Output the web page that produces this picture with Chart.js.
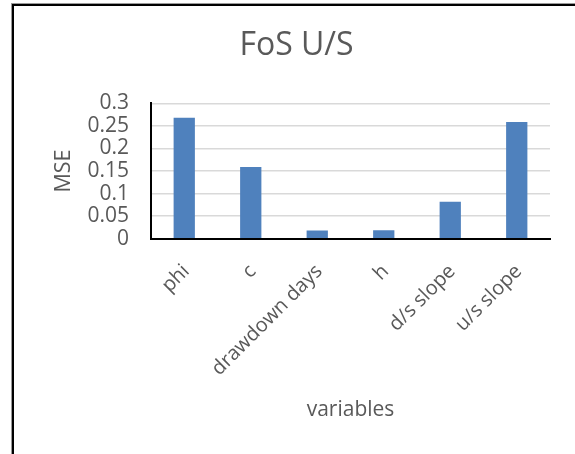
<!DOCTYPE html>
<html>
<head>
<meta charset="utf-8">
<script src="https://cdn.jsdelivr.net/npm/chart.js@4/dist/chart.umd.min.js"></script>
<style>
  html, body { margin: 0; padding: 0; background: #fff; overflow: hidden; width: 575px; height: 454px; }
  #frame { position: absolute; left: 12px; top: 4px; width: 700px; height: 600px;
           border-left: 2px solid #000; border-top: 2px solid #000; box-shadow: -1px -1px 0 #9a9a9a; }
  #wrap { position: absolute; left: 0; top: 0; width: 575px; height: 454px; }
</style>
</head>
<body>
<div id="frame"></div>
<div id="wrap"><canvas id="c" width="575" height="454"></canvas></div>
<script>
const chartTitle = 'FoS U/S';
const categories = ['phi', 'c', 'drawdown days', 'h', 'd/s slope', 'u/s slope'];
const mseValues = [0.268, 0.159, 0.018, 0.019, 0.082, 0.259];
const yTickLabels = ['0', '0.05', '0.1', '0.15', '0.2', '0.25', '0.3'];
const yAxisTitle = 'MSE';
const xAxisTitle = 'variables';

const textColor = '#595959';
const fontFamily = "'Open Sans', sans-serif";

new Chart(document.getElementById('c'), {
  type: 'bar',
  data: {
    labels: categories,
    datasets: [{
      label: 'MSE',
      data: mseValues,
      backgroundColor: '#4F81BD',
      borderWidth: 0,
      categoryPercentage: 1,
      barPercentage: 0.32
    }]
  },
  options: {
    responsive: false,
    animation: false,
    events: [],
    layout: { padding: { left: 43, right: 25, top: 0, bottom: 0 } },
    plugins: {
      legend: { display: false },
      tooltip: { enabled: false },
      title: {
        display: true,
        text: chartTitle,
        color: textColor,
        font: { family: fontFamily, size: 32, weight: 'normal' },
        padding: { top: 27, bottom: 38 }
      }
    },
    scales: {
      x: {
        grid: { display: false },
        border: { display: true, color: '#000', width: 2 },
        ticks: {
          color: textColor,
          font: { family: fontFamily, size: 20 },
          minRotation: 45,
          maxRotation: 45,
          autoSkip: false,
          padding: 13,
          labelOffset: 2
        },
        title: {
          display: true,
          text: xAxisTitle,
          color: textColor,
          font: { family: fontFamily, size: 21 },
          padding: { top: 0, bottom: 31 }
        },
        afterFit: (s) => { s.height = 215.3; }
      },
      y: {
        min: 0,
        max: 0.3,
        grid: { color: '#d9d9d9', lineWidth: 1.5, drawTicks: false },
        border: { display: true, color: '#000', width: 2 },
        ticks: {
          stepSize: 0.05,
          autoSkip: false,
          color: textColor,
          font: { family: fontFamily, size: 21 },
          padding: 22,
          callback: (v, i) => yTickLabels[i]
        },
        title: {
          display: true,
          text: yAxisTitle,
          color: textColor,
          font: { family: fontFamily, size: 21.5 },
          padding: { top: 8, bottom: 9 }
        },
        afterFit: (s) => { s.width = 108; }
      }
    }
  }
});
</script>
</body>
</html>
